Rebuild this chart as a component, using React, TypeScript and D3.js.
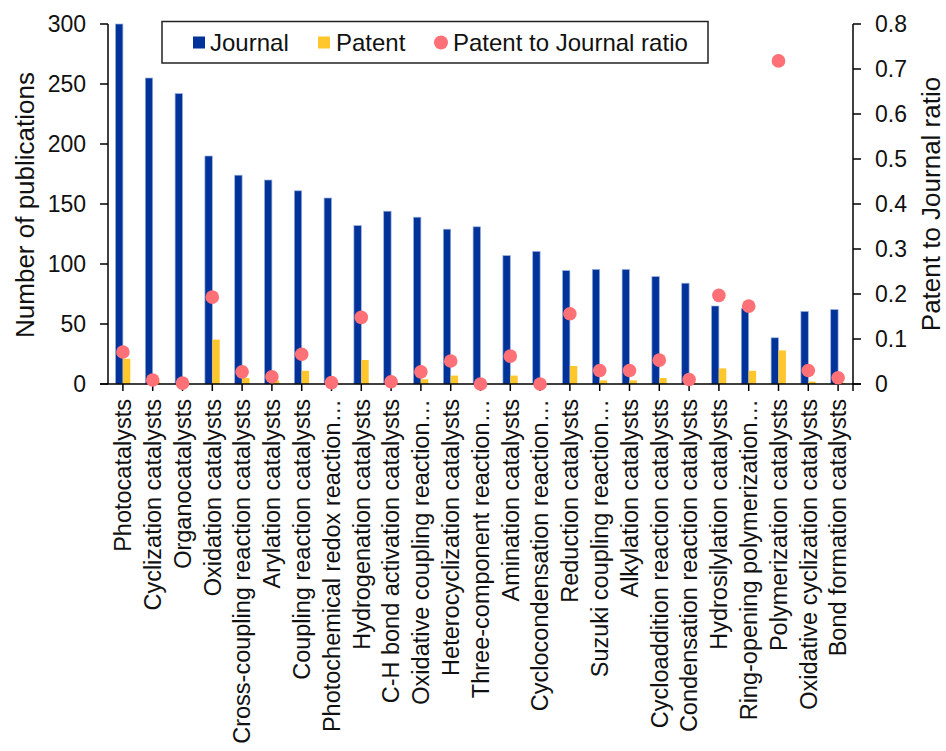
import React from "react";
import * as d3 from "d3";

const categories = [
  "Photocatalysts",
  "Cyclization catalysts",
  "Organocatalysts",
  "Oxidation catalysts",
  "Cross-coupling reaction catalysts",
  "Arylation catalysts",
  "Coupling reaction catalysts",
  "Photochemical redox reaction…",
  "Hydrogenation catalysts",
  "C-H bond activation catalysts",
  "Oxidative coupling reaction…",
  "Heterocyclization catalysts",
  "Three-component reaction…",
  "Amination catalysts",
  "Cyclocondensation reaction…",
  "Reduction catalysts",
  "Suzuki coupling reaction…",
  "Alkylation catalysts",
  "Cycloaddition reaction catalysts",
  "Condensation reaction catalysts",
  "Hydrosilylation catalysts",
  "Ring-opening polymerization…",
  "Polymerization catalysts",
  "Oxidative cyclization catalysts",
  "Bond formation catalysts",
];

const journal = [300, 255, 242, 190, 174, 170, 161, 155, 132, 144, 139, 129, 131, 107, 110.5, 94.5, 95.5, 95.5, 89.5, 84, 65, 63, 38.5, 60.5, 62];
const patent = [21, 2, 1, 37, 5, 3, 11, 1, 20, 1, 4, 7, 0, 7, 0, 15, 3, 3, 5, 1, 13, 11, 28, 2, 1];
const ratio = [0.071, 0.009, 0.002, 0.193, 0.027, 0.016, 0.066, 0.003, 0.148, 0.005, 0.027, 0.051, 0, 0.062, 0, 0.156, 0.03, 0.03, 0.053, 0.01, 0.197, 0.173, 0.718, 0.03, 0.014];

const leftTicks = [0, 50, 100, 150, 200, 250, 300];
const rightTicks = [0, 0.1, 0.2, 0.3, 0.4, 0.5, 0.6, 0.7, 0.8];

const FONT = "'Liberation Sans', Arial, Helvetica, sans-serif";
const BLUE = "#00339A";
const YELLOW = "#FFC72C";
const RED = "#FF7077";

export default function App() {
  const left = 108;
  const right = 853;
  const top = 24;
  const bottom = 384;
  const x = d3.scaleBand<string>().domain(categories).range([left, right]).padding(0);
  const yL = d3.scaleLinear().domain([0, 300]).range([bottom, top]);
  const yR = d3.scaleLinear().domain([0, 0.8]).range([bottom, top]);
  const bw = 7.4;
  const cx = (c: string) => (x(c) as number) + x.bandwidth() / 2;

  return (
    <svg
      width={946}
      height={751}
      style={{ position: "absolute", left: 0, top: 0, background: "#fff" }}
      fontFamily={FONT}
    >
      <rect x={0} y={0} width={946} height={751} fill="#fff" />
      {/* bars */}
      {categories.map((c, i) => (
        <g key={c}>
          <rect
            x={cx(c) - bw}
            y={yL(journal[i])}
            width={bw}
            height={bottom - yL(journal[i])}
            fill={BLUE}
            stroke="#9db0dc"
            strokeWidth={0.7}
          />
          {patent[i] > 0 && (
            <rect
              x={cx(c)}
              y={yL(patent[i])}
              width={bw}
              height={bottom - yL(patent[i])}
              fill={YELLOW}
            />
          )}
        </g>
      ))}
      {/* axes */}
      <g stroke="#000" strokeWidth={1.5} fill="none">
        <line x1={left} x2={left} y1={top} y2={bottom} />
        <line x1={right} x2={right} y1={top} y2={bottom} />
        <line x1={left - 8} x2={right + 8} y1={bottom} y2={bottom} />
        {leftTicks.map((t) => (
          <line key={"l" + t} x1={left - 8} x2={left} y1={yL(t)} y2={yL(t)} />
        ))}
        {rightTicks.map((t) => (
          <line key={"r" + t} x1={right} x2={right + 8} y1={yR(t)} y2={yR(t)} />
        ))}
        {categories.map((c) => (
          <line key={"t" + c} x1={cx(c)} x2={cx(c)} y1={bottom} y2={bottom + 7} />
        ))}
        <line x1={right} x2={right} y1={bottom} y2={bottom + 7} />
      </g>
      {/* dots */}
      {categories.map((c, i) => (
        <circle key={"d" + c} cx={cx(c)} cy={yR(ratio[i])} r={6.8} fill={RED} />
      ))}
      {/* tick labels */}
      {leftTicks.map((t) => (
        <text key={"lt" + t} x={86} y={yL(t)} dy="0.35em" textAnchor="end" fontSize={23} fill="#111">
          {t}
        </text>
      ))}
      {rightTicks.map((t) => (
        <text key={"rt" + t} x={875} y={yR(t)} dy="0.35em" textAnchor="start" fontSize={23} fill="#111">
          {t === 0 ? "0" : d3.format(".1f")(t)}
        </text>
      ))}
      {categories.map((c) => (
        <text
          key={"cl" + c}
          transform={`translate(${cx(c)},399) rotate(-90)`}
          dy="0.35em"
          textAnchor="end"
          fontSize={23.5}
          fill="#111"
        >
          {c}
        </text>
      ))}
      {/* axis titles */}
      <text transform="translate(34,205) rotate(-90)" textAnchor="middle" fontSize={26} fill="#111">
        Number of publications
      </text>
      <text transform="translate(940,204) rotate(-90)" textAnchor="middle" fontSize={26} fill="#111">
        Patent to Journal ratio
      </text>
      {/* legend */}
      <rect x={162} y={21.5} width={546} height={41.5} fill="#fff" stroke="#222" strokeWidth={1.5} />
      <rect x={193} y={36.5} width={12} height={12} fill={BLUE} />
      <text x={210} y={42.5} dy="0.35em" fontSize={24} fill="#111">Journal</text>
      <rect x={318} y={36.5} width={12} height={12} fill={YELLOW} />
      <text x={336} y={42.5} dy="0.35em" fontSize={24} fill="#111">Patent</text>
      <circle cx={441} cy={42.5} r={7} fill={RED} />
      <text x={453} y={42.5} dy="0.35em" fontSize={24} fill="#111">Patent to Journal ratio</text>
    </svg>
  );
}
